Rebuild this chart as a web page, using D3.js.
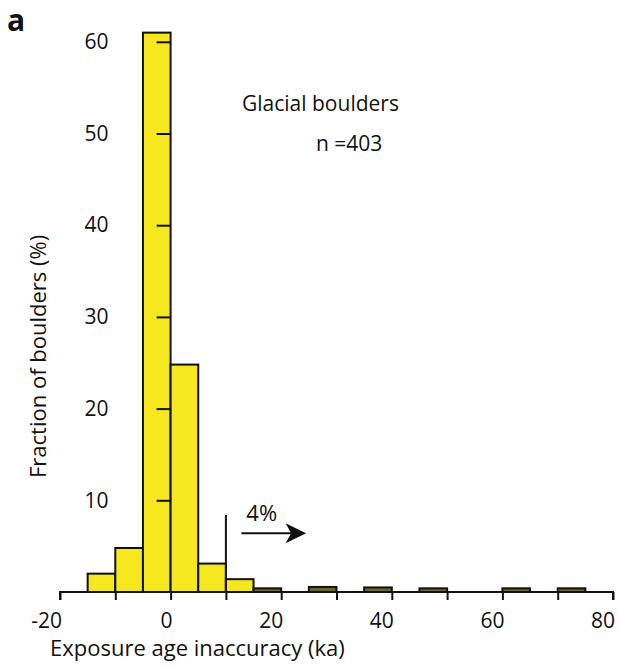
<!DOCTYPE html>
<html>
<head>
<meta charset="utf-8">
<script src="https://cdn.jsdelivr.net/npm/d3@7"></script>
<style>
  html, body { margin: 0; padding: 0; background: #fff; }
  svg { display: block; }
  text { font-family: "Open Sans", "Noto Sans", sans-serif; fill: #111; }
</style>
</head>
<body>
<svg id="chart" width="618" height="667"></svg>
<script>
// ---- data ----
const binStarts = [-15, -10, -5, 0, 5, 10, 15, 25, 35, 45, 60, 70];
const fractions = [2.0, 4.8, 61.0, 24.8, 3.1, 1.4, 0.4, 0.55, 0.5, 0.4, 0.4, 0.4];
const binWidth = 5;
const xTickValues = [-20, -10, 0, 10, 20, 30, 40, 50, 60, 70, 80];
const xTickLabels = ["-20", "", "0", "", "20", "", "40", "", "60", "", "80"];
const yTickValues = [10, 20, 30, 40, 50, 60];
const titleText = "Glacial boulders";
const sampleText = "n =403";
const thresholdValue = 10;   // ka, vertical marker
const tailLabel = "4%";

const svg = d3.select("#chart");
const x = d3.scaleLinear().domain([-20, 80]).range([60, 613]);
const y = d3.scaleLinear().domain([0, 60]).range([592, 41.8]);

// bars
svg.append("g").selectAll("rect")
  .data(binStarts.map((s, i) => ({ s, v: fractions[i] })))
  .join("rect")
  .attr("x", d => x(d.s))
  .attr("y", d => y(d.v))
  .attr("width", d => x(d.s + binWidth) - x(d.s))
  .attr("height", d => y(0) - y(d.v))
  .attr("fill", d => d.v < 1 ? "#6b6630" : "#f6e81f")
  .attr("stroke", "#111")
  .attr("stroke-width", 2);

// x axis
const xAxis = svg.append("g").attr("transform", `translate(0,${y(0)})`)
  .call(d3.axisBottom(x).tickValues(xTickValues).tickSize(8).tickFormat(""));
xAxis.select(".domain").attr("stroke", "#111").attr("stroke-width", 2)
  .attr("d", `M${x(-20)},8V0H${x(80)}V8`);
xAxis.selectAll(".tick line").attr("stroke", "#111").attr("stroke-width", 2);
svg.append("g").selectAll("text")
  .data(xTickValues.map((v, i) => ({ v, l: xTickLabels[i] })).filter(d => d.l))
  .join("text")
  .attr("x", d => x(d.v) + 2)
  .attr("y", 628)
  .attr("text-anchor", "end")
  .attr("font-size", 21)
  .text(d => d.l);

// y axis (ticks only)
const yAxis = svg.append("g").attr("transform", `translate(${x(0)},0)`)
  .call(d3.axisLeft(y).tickValues(yTickValues).tickSize(14).tickPadding(48));
yAxis.select(".domain").remove();
yAxis.selectAll(".tick line").attr("stroke", "#111").attr("stroke-width", 2);
yAxis.selectAll(".tick text").attr("font-size", 21).attr("fill", "#111")
  .style("font-family", "'Open Sans', sans-serif");

// axis titles
svg.append("text")
  .attr("x", 50).attr("y", 656)
  .attr("font-size", 22)
  .text("Exposure age inaccuracy (ka)");
svg.append("text")
  .attr("transform", "translate(46,478) rotate(-90)")
  .attr("font-size", 22)
  .text("Fraction of boulders (%)");

// panel letter
svg.append("text")
  .attr("x", 7).attr("y", 31)
  .attr("font-size", 30).attr("font-weight", "bold")
  .text("a");

// annotations
svg.append("text").attr("x", 242).attr("y", 111).attr("font-size", 21).text(titleText);
svg.append("text").attr("x", 316).attr("y", 151).attr("font-size", 21).text(sampleText);

svg.append("line")
  .attr("x1", x(thresholdValue)).attr("x2", x(thresholdValue))
  .attr("y1", y(0)).attr("y2", y(8.4))
  .attr("stroke", "#111").attr("stroke-width", 2);

svg.append("text").attr("x", x(13.7)).attr("y", y(7.75)).attr("font-size", 22).text(tailLabel);

const ay = y(6.4);
svg.append("line")
  .attr("x1", x(12.8)).attr("x2", x(22))
  .attr("y1", ay).attr("y2", ay)
  .attr("stroke", "#111").attr("stroke-width", 2);
svg.append("path")
  .attr("d", `M${x(24.5)},${ay} L${x(20.8)},${ay - 10} L${x(21.8)},${ay} L${x(20.8)},${ay + 10} Z`)
  .attr("fill", "#111");
</script>
</body>
</html>
